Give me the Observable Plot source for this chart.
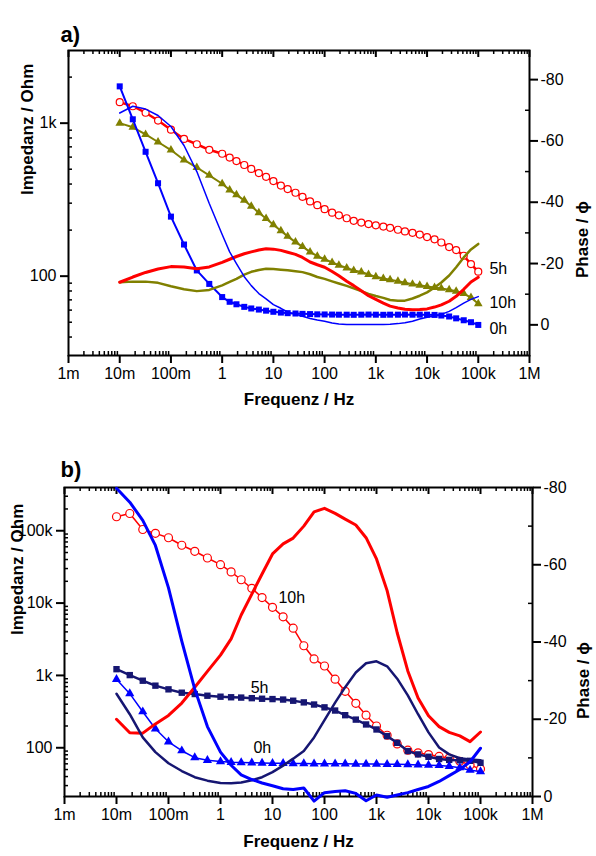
<!DOCTYPE html>
<html><head><meta charset="utf-8">
<script src="https://cdn.jsdelivr.net/npm/d3@7"></script>
<script src="https://cdn.jsdelivr.net/npm/@observablehq/plot@0.6"></script>
<style>
body{margin:0;background:#fff;}
#wrap{position:relative;width:596px;height:856px;overflow:hidden;background:#fff;}
#wrap svg{position:absolute;left:0;}
</style></head><body><div id="wrap"></div>
<script>
// ---------- axis tick values / labels ----------
const xMajor = [0.001, 0.01, 0.1, 1, 10, 100, 1000, 10000, 100000, 1000000];
const xMajorLabels = ["1m", "10m", "100m", "1", "10", "100", "1k", "10k", "100k", "1M"];
const yMajorA = [100, 1000];
const yMajorLabelsA = ["100", "1k"];
const yMajorB = [100, 1000, 10000, 100000];
const yMajorLabelsB = ["100", "1k", "10k", "100k"];
const pMajor = [-80, -60, -40, -20, 0];
const pMajorLabels = ["-80", "-60", "-40", "-20", "0"];
const pMinor = [-70, -50, -30, -10];

// ---------- panel a) data ----------
const freqA = [0.01, 0.018, 0.032, 0.056, 0.1, 0.18, 0.32, 0.56,
  1, 1.4, 1.9, 2.7, 3.7, 5.2, 7.2, 10, 14, 19, 27, 37, 52, 72, 100, 140, 190, 270, 370, 520, 720,
  1000, 1400, 1900, 2700, 3700, 5200, 7200, 10000, 14000, 19000, 27000, 37000, 52000, 72000, 100000];
// 0h impedance (blue squares)
const zA0h = [1740, 1060, 650, 405, 245, 161, 109, 89, 73, 68, 65.5, 63, 61.5, 60.5, 59.5, 58.5, 57.8, 57.3, 57, 56.7, 56.5, 56.3, 56.2, 56.1,
  56, 56, 55.9, 56, 56.1, 56, 55.9, 56, 56, 56.1, 56, 56, 56, 55.8, 55.3, 54.5, 53, 51.5, 50, 48];
// 0h phase (thin blue line)
const pA0h = [-69.1, -71.3, -70.4, -68.3, -64.7, -58.5, -50.0, -39.6, -29.5, -23.8, -20.0, -15.7, -12.8, -10.2, -8.5, -6.6, -5.4, -4.2, -3.5, -2.8, -2.1, -1.6, -1.2, -0.6,
  -0.3, -0.1, -0.1, -0.1, -0.1, -0.1, -0.1, -0.2, -0.4, -0.7, -1.2, -1.9, -2.5, -2.9, -3.4, -4.4, -5.6, -7.1, -8.3, -9.2];
// 5h impedance (red open circles)
const zA5h = [1372, 1290, 1170, 1040, 906, 789, 728, 670, 631, 596, 565, 533, 502, 472, 446, 418, 391, 371, 351, 330, 308, 291, 274, 260,
  250, 239, 230, 224, 219, 215, 211, 207, 201, 196, 192, 187, 180, 174, 166, 155, 148, 136, 120, 107];
// 5h phase (thick red line)
const pA5h = [-13.9, -15.6, -17.1, -18.2, -19.0, -18.9, -18.3, -18.9, -20.4, -21.4, -22.3, -23.2, -23.8, -24.4, -24.8, -24.7, -24.3, -23.7, -23.0, -22.0, -20.5, -19.6, -18.8, -17.4,
  -16.0, -14.2, -12.8, -11.1, -9.5, -8.3, -7.1, -6.1, -5.5, -5.1, -4.9, -5.0, -5.2, -5.8, -6.5, -7.7, -9.3, -11.6, -14.0, -15.5];
// 10h impedance (olive triangles)
const zA10h = [1000, 940, 844, 753, 667, 575, 513, 456, 402, 366, 340, 313, 286, 260, 238, 217, 198, 182, 167, 156, 144, 135, 129, 123,
  118, 113, 109, 106.5, 102.5, 99, 96.6, 94.8, 92.7, 90.6, 88.7, 87.1, 85.7, 84.3, 83.2, 81.5, 79.8, 77, 72.5, 66];
// 10h phase (olive line)
const pA10h = [-13.9, -14.1, -14.1, -13.7, -12.6, -11.6, -11.0, -11.4, -12.9, -14.0, -15.0, -16.4, -17.3, -17.9, -18.3, -18.2, -18.0, -17.8, -17.5, -17.2, -16.5, -15.6, -15.0, -14.2,
  -13.5, -12.7, -11.9, -11.0, -10.1, -9.4, -8.8, -8.1, -7.9, -7.9, -8.6, -9.5, -10.6, -12.2, -13.8, -16.1, -18.8, -22.0, -24.6, -26.4];
const labelTextA = ["5h", "10h", "0h"];
const labelFreqA = [165000, 165000, 165000];
const labelZA = [111, 66.4, 45.5];

// ---------- panel b) data ----------
const freqB = [0.01, 0.018, 0.032, 0.056, 0.1, 0.18, 0.32, 0.56,
  1, 1.6, 2.5, 4, 6.3, 10, 16, 25, 40, 63, 100, 160, 250, 400, 630,
  1000, 1600, 2500, 4000, 6300, 10000, 16000, 25000, 40000, 63000, 100000];
// 10h impedance (red open circles)
const zB10h = [156000, 173000, 104000, 92000, 80000, 63000, 52000, 42000, 34000, 27000, 21000, 16000, 11900, 8750, 6450, 4500, 2570,
  1690, 1350, 887, 603, 412, 282, 200, 149, 113, 92.5, 85, 80.5, 76, 72, 65, 58, 50.7];
// 10h phase (thick red line)
const pB10h = [-20.0, -16.5, -16.4, -18.8, -21.0, -24.2, -28.3, -32.4, -36.6, -40.8, -47.0, -52.4, -57.6, -62.8, -65.4, -66.9, -70.0,
  -73.7, -74.6, -73.3, -71.8, -70.3, -67.0, -61.5, -53.3, -42.4, -32.5, -25.5, -20.9, -18.1, -16.6, -15.7, -14.2, -16.7];
// 5h impedance (navy squares)
const zB5h = [1220, 1010, 845, 722, 642, 577, 553, 524, 508, 499, 494, 485, 476, 471, 464, 447, 424,
  396, 362, 327, 282, 245, 210, 179, 145, 117, 90, 81, 75, 70, 68, 67, 66, 62];
// 5h phase (navy line)
const pB5h = [-26.6, -21.3, -15.3, -11.5, -8.6, -6.6, -5.0, -4.1, -3.5, -3.4, -3.6, -4.2, -5.0, -6.3, -8.0, -9.8, -11.8,
  -15.3, -19.8, -24.3, -28.3, -32.1, -34.5, -35.0, -33.7, -30.5, -26.2, -21.3, -16.6, -12.7, -10.9, -9.9, -9.6, -9.4];
// 0h impedance (blue triangles)
const zB0h = [883, 560, 315, 183, 121, 91, 73, 67, 64.5, 63, 62.5, 62, 61.5, 61, 61, 60.5, 60.5,
  60, 60, 60, 60, 59.5, 59.5, 59.5, 59, 59, 58.5, 58, 57.5, 57, 55.5, 53, 49, 47];
// 0h phase (thick blue line)
const pB0h = [-79.8, -76.2, -71.5, -65.0, -54.0, -40.2, -27.8, -18.1, -11.5, -8.1, -5.6, -4.4, -3.5, -2.8, -2.0, -1.8, -2.2,
  1.2, -1.0, -1.3, -1.5, -0.8, 1.1, -0.4, 0.2, -0.4, -1.0, -1.8, -2.6, -3.9, -5.4, -7.0, -9.0, -12.5];
const labelTextB = ["10h", "5h", "0h"];
const labelFreqB = [13, 3.8, 4.3];
const labelZB = [11900, 680, 101];

// ---------- helpers ----------
const FONT = 'Arial, "Liberation Sans", sans-serif';
const W = 596;
const RED = "#ff0000", BLUE = "#0000ff", OLIVE = "#808000", NAVY = "#161672";
const xLab = new Map(xMajor.map((v, i) => [v, xMajorLabels[i]]));
const pLab = new Map(pMajor.map((v, i) => [v, pMajorLabels[i]]));
const xMinor = [];
for (const d of [0.001, 0.01, 0.1, 1, 10, 100, 1000, 10000, 100000]) for (let m = 2; m <= 9; m++) xMinor.push(+(d * m).toPrecision(3));
function yMinorFor(lo, hi) {
  const out = [];
  for (let d = 10; d < hi; d *= 10) for (let m = 2; m <= 9; m++) { const v = d * m; if (v > lo && v < hi) out.push(v); }
  return out;
}
const rows = (freq, vals) => freq.map((f, i) => ({f, v: vals[i]}));

function makePanel(cfg) {
  const {top, height, mt, mb, ml, mr} = cfg;
  const iw = W - ml - mr, ih = height - mt - mb;
  const style = {fontFamily: FONT, fontSize: "16px", color: "black", background: "transparent", overflow: "visible"};
  const common = {width: W, height, marginTop: mt, marginBottom: mb, marginLeft: ml, marginRight: mr, style};
  const yLab = new Map(cfg.yMajor.map((v, i) => [v, cfg.yMajorLabels[i]]));
  const zMarks = [];
  for (const s of cfg.zSeries) {
    const data = rows(cfg.freq, s.vals);
    zMarks.push(Plot.line(data, {x: "f", y: "v", stroke: s.color, strokeWidth: s.lw}));
    zMarks.push(Plot.dot(data, {x: "f", y: "v", symbol: s.symbol, r: s.r,
      fill: s.hollow ? "white" : s.color, stroke: s.hollow ? s.color : "none", strokeWidth: s.hollow ? 1.2 : 0}));
  }
  const zPlot = Plot.plot({
    ...common,
    x: {type: "log", domain: [1e-3, 1e6]},
    y: {type: "log", domain: cfg.zDomain},
    marks: [
      ...zMarks,
      Plot.frame({stroke: "black", strokeWidth: 2}),
      Plot.axisX(xMajor, {anchor: "bottom", tickSize: 8, tickPadding: 4, tickFormat: d => xLab.get(d), fontSize: 16, strokeWidth: 2, label: null}),
      Plot.tickX(xMinor, {x: d => d, insetTop: ih - 4, strokeWidth: 1.5}),
      Plot.tickX(xMajor, {x: d => d, insetBottom: ih - 7, strokeWidth: 2}),
      Plot.tickX(xMinor, {x: d => d, insetBottom: ih - 4, strokeWidth: 1.5}),
      Plot.axisY(cfg.yMajor, {anchor: "left", tickSize: 8, tickPadding: 4, tickFormat: d => yLab.get(d), fontSize: 16, strokeWidth: 2, label: null}),
      Plot.tickY(cfg.yMinor, {y: d => d, insetRight: iw - 4, strokeWidth: 1.5}),
      Plot.text(cfg.labelText.map((t, i) => ({t, f: cfg.labelFreq[i], v: cfg.labelZ[i]})),
        {x: "f", y: "v", text: "t", textAnchor: "start", fontSize: 16}),
      Plot.text([cfg.title], {frameAnchor: "top-left", dx: cfg.titleDx, dy: cfg.titleDy, textAnchor: "start", fontSize: 22, fontWeight: "bold"}),
      Plot.text(["Frequenz / Hz"], {frameAnchor: "bottom", dy: cfg.xLabelDy, fontSize: 17, fontWeight: "bold"}),
      Plot.text(["Impedanz / Ohm"], {frameAnchor: "left", dx: cfg.yLabelDx, dy: cfg.yLabelDy, rotate: -90, fontSize: 17, fontWeight: "bold"})
    ]
  });
  const pMarks = cfg.pSeries.map(s => Plot.line(rows(cfg.freq, s.vals), {x: "f", y: "v", stroke: s.color, strokeWidth: s.lw}));
  const pPlot = Plot.plot({
    ...common,
    x: {type: "log", domain: [1e-3, 1e6], axis: null},
    y: {type: "linear", domain: cfg.pDomain},
    marks: [
      ...pMarks,
      Plot.axisY(pMajor, {anchor: "right", tickSize: 8, tickPadding: 3, tickFormat: d => pLab.get(d), fontSize: 16, strokeWidth: 2, label: null}),
      Plot.tickY(pMinor, {y: d => d, insetLeft: iw - 4, strokeWidth: 1.5}),
      Plot.text(["Phase / ϕ"], {frameAnchor: "right", dx: cfg.pLabelDx, dy: cfg.pLabelDy, rotate: -90, fontSize: 17, fontWeight: "bold"})
    ]
  });
  for (const svg of [zPlot, pPlot]) {
    svg.style.position = "absolute";
    svg.style.top = top + "px";
    svg.style.left = "0px";
    document.getElementById("wrap").appendChild(svg);
  }
}

makePanel({
  top: 0, height: 420, mt: 50, mb: 65, ml: 68, mr: 67,
  freq: freqA, zDomain: [30.3, 2985], pDomain: [10, -89.5],
  yMajor: yMajorA, yMajorLabels: yMajorLabelsA, yMinor: yMinorFor(30.3, 2985),
  zSeries: [
    {vals: zA10h, color: OLIVE, lw: 2, symbol: "triangle", r: 3.2},
    {vals: zA5h, color: RED, lw: 2.5, symbol: "circle", r: 3.5, hollow: true},
    {vals: zA0h, color: BLUE, lw: 2, symbol: "square", r: 3.4}
  ],
  pSeries: [
    {vals: pA10h, color: OLIVE, lw: 2.5},
    {vals: pA5h, color: RED, lw: 3},
    {vals: pA0h, color: BLUE, lw: 1.5}
  ],
  labelText: labelTextA, labelFreq: labelFreqA, labelZ: labelZA,
  title: "a)", titleDx: -8, titleDy: -24, xLabelDy: 49, yLabelDx: -41, yLabelDy: -8, pLabelDx: 53, pLabelDy: -2
});

makePanel({
  top: 420, height: 436, mt: 67, mb: 60, ml: 64, mr: 64,
  freq: freqB, zDomain: [21.2, 396000], pDomain: [0, -80],
  yMajor: yMajorB, yMajorLabels: yMajorLabelsB, yMinor: yMinorFor(21.2, 396000),
  zSeries: [
    {vals: zB10h, color: RED, lw: 1.5, symbol: "circle", r: 4, hollow: true},
    {vals: zB5h, color: NAVY, lw: 2.5, symbol: "square", r: 3.6},
    {vals: zB0h, color: BLUE, lw: 1.5, symbol: "triangle", r: 3.4}
  ],
  pSeries: [
    {vals: pB10h, color: RED, lw: 3},
    {vals: pB5h, color: NAVY, lw: 2.5},
    {vals: pB0h, color: BLUE, lw: 3}
  ],
  labelText: labelTextB, labelFreq: labelFreqB, labelZ: labelZB,
  title: "b)", titleDx: -4, titleDy: -26, xLabelDy: 50, yLabelDx: -47, yLabelDy: -7, pLabelDx: 51, pLabelDy: 0
});
</script></body></html>
